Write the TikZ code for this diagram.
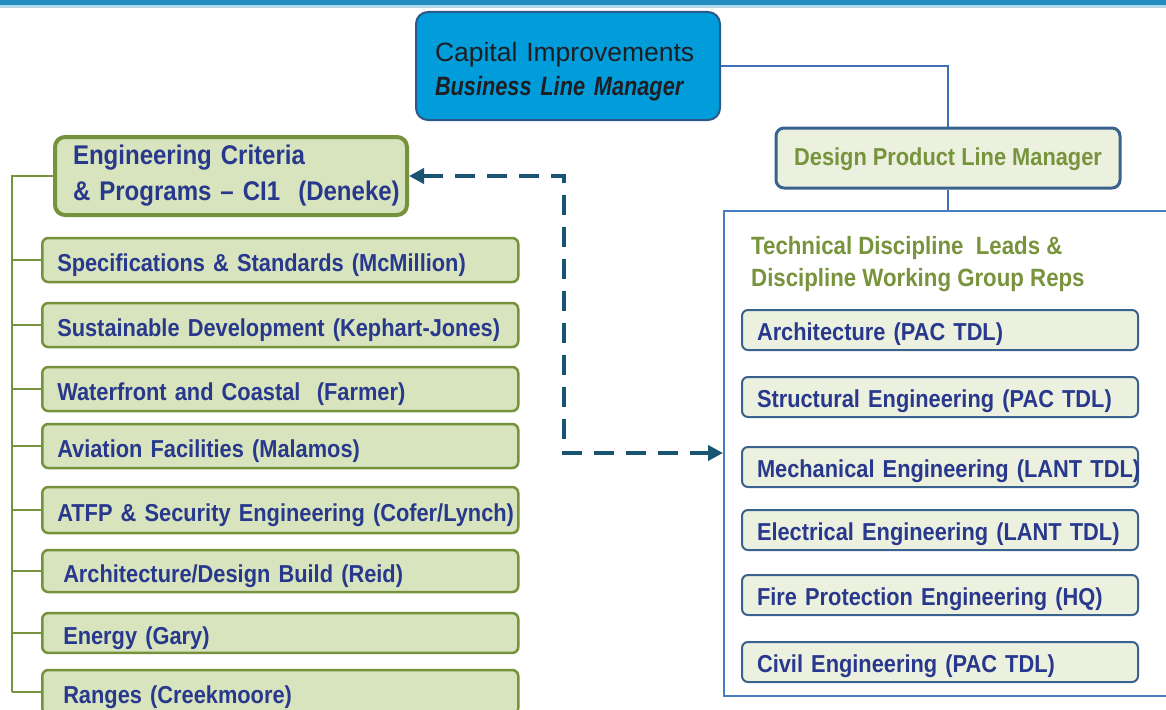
\documentclass[tikz,border=0pt]{standalone}
\usepackage{fontspec}
\setmainfont{Liberation Sans}
\newfontfamily\narrowfont{Liberation Sans}[FakeStretch=0.89]
\newfontfamily\blmfont{Liberation Sans}[FakeStretch=0.82]
\usetikzlibrary{arrows.meta}

\definecolor{topband}{RGB}{33,140,192}
\definecolor{capfill}{RGB}{0,157,218}
\definecolor{capline}{RGB}{45,88,138}
\definecolor{captext}{RGB}{30,30,35}
\definecolor{bluelink}{RGB}{62,112,182}
\definecolor{dpfill}{RGB}{235,241,222}
\definecolor{dpline}{RGB}{58,98,142}
\definecolor{greentext}{RGB}{119,147,60}
\definecolor{leftfill}{RGB}{215,228,189}
\definecolor{leftline}{RGB}{118,146,60}
\definecolor{itemtext}{RGB}{40,56,140}
\definecolor{dashcol}{RGB}{25,85,115}
\definecolor{tdlline}{RGB}{70,125,195}

\begin{document}
\begin{tikzpicture}[x=1pt,y=-1pt,
    blm node/.style={draw=capline,fill=capfill,line width=2pt,rounded corners=12pt,
        minimum width=304pt,minimum height=108pt,inner xsep=19pt,text width=266pt,
        align=left,text=captext,font=\fontsize{26.5}{34}\selectfont},
    dplm node/.style={draw=dpline,fill=dpfill,line width=3pt,rounded corners=8pt,
        minimum width=344pt,minimum height=60pt,text=greentext,
        font=\narrowfont\bfseries\fontsize{24.5}{30}\selectfont},
    crit node/.style={draw=leftline,fill=leftfill,line width=4pt,rounded corners=10pt,
        minimum width=352pt,minimum height=78pt,inner xsep=18pt,text width=316pt,
        align=left,text=itemtext,font=\narrowfont\bfseries\fontsize{27}{36}\selectfont},
    left item/.style={anchor=west,draw=leftline,fill=leftfill,line width=2.5pt,
        rounded corners=6pt,minimum width=476pt,minimum height=44pt,inner xsep=15pt,
        text width=446pt,align=left,text=itemtext,
        execute at begin node={\rule{0pt}{28pt}},
        font=\narrowfont\bfseries\fontsize{24.5}{28}\selectfont},
    right item/.style={anchor=west,draw=dpline,fill=dpfill,line width=2pt,
        rounded corners=6pt,minimum width=396pt,minimum height=40pt,inner xsep=15pt,
        text width=366pt,align=left,text=itemtext,
        execute at begin node={\rule{0pt}{26pt}},
        font=\narrowfont\bfseries\fontsize{24.5}{28}\selectfont},
    tdl box/.style={anchor=north west,draw=tdlline,line width=2pt,inner sep=0pt,
        minimum width=450pt,minimum height=485pt},
    tree line/.style={draw=leftline,line width=2.5pt},
    blue line/.style={draw=bluelink,line width=2pt},
    dash link/.style={draw=dashcol,line width=4pt,dash pattern=on 20pt off 12pt,
        >={Triangle[length=15pt,width=15pt]},<->}
]
    \useasboundingbox (0,0) rectangle (1166,709);
    \fill[topband] (0,0) rectangle (1166,5);
    \fill[topband!35] (0,5) rectangle (1166,8);

    \node[blm node] (blm) at (568,66)
        {\rule{0pt}{31pt}Capital Improvements\\{\blmfont\bfseries\itshape Business Line Manager}};
    \node[dplm node] (dplm) at (948,158) {\rule{0pt}{21pt}Design Product Line Manager};
    \node[tdl box] (tdl) at (723,210) {};
    \node[anchor=west,align=left,text=greentext,inner sep=0pt,
        font=\narrowfont\bfseries\fontsize{25}{32}\selectfont] (hdr) at (751,264)
        {Technical Discipline~ Leads \&\\Discipline Working Group Reps};

    \node[right item] (arch) at (741,330) {Architecture (PAC TDL)};
    \node[right item] (strc) at (741,397) {\mbox{Structural Engineering (PAC TDL)}};
    \node[right item] (mech) at (741,467) {\mbox{Mechanical Engineering (LANT TDL)}};
    \node[right item] (elec) at (741,530) {\mbox{Electrical Engineering (LANT TDL)}};
    \node[right item] (fire) at (741,595) {\mbox{Fire Protection Engineering (HQ)}};
    \node[right item] (civl) at (741,662) {Civil Engineering (PAC TDL)};

    \node[crit node] (crit) at (231,176) {Engineering Criteria\\\mbox{\& Programs – CI1~ (Deneke)}};
    \node[left item] (spec) at (41,260) {\mbox{Specifications \& Standards (McMillion)}};
    \node[left item] (sust) at (41,325) {\mbox{Sustainable Development (Kephart-Jones)}};
    \node[left item] (wfc) at (41,389) {Waterfront and Coastal~ (Farmer)};
    \node[left item] (avia) at (41,446) {Aviation Facilities (Malamos)};
    \node[left item,minimum height=46pt] (atfp) at (41,510) {\mbox{ATFP \& Security Engineering (Cofer/Lynch)}};
    \node[left item,minimum height=42pt] (adb) at (41,571) {\hspace{6pt}Architecture/Design Build (Reid)};
    \node[left item,minimum height=38pt] (engy) at (41,633) {\hspace{6pt}Energy (Gary)};
    \node[left item] (rng) at (41,692) {\hspace{6pt}Ranges (Creekmoore)};

    \draw[blue line] (blm.east) -| (dplm.north);
    \draw[blue line] (dplm.south) -- (dplm.south |- tdl.north);

    \coordinate (trunktop) at (12,176);
    \coordinate (trunkbot) at (12,692);
    \draw[tree line] (crit.west) -- (trunktop) -- (trunkbot);
    \foreach \n in {spec,sust,wfc,avia,atfp,adb,engy,rng}
        \draw[tree line] (trunktop |- \n.west) -- (\n.west);

    \coordinate (bend) at (564,453);
    \draw[dash link] (crit.east) -| (bend) -- (bend -| tdl.west);
\end{tikzpicture}
\end{document}
